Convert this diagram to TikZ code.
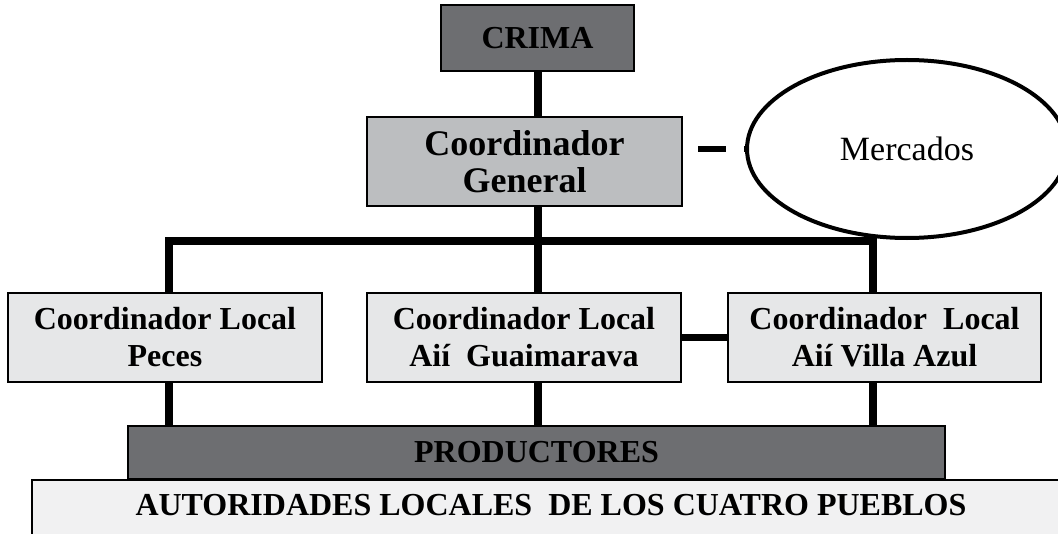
\documentclass[tikz,border=0pt]{standalone}
\usepackage{fontspec}
\setmainfont{Liberation Serif}
\usetikzlibrary{shapes.geometric}
\definecolor{dk}{HTML}{6D6E71}
\definecolor{md}{HTML}{BCBEC0}
\definecolor{lt}{HTML}{E6E7E8}
\definecolor{pl}{HTML}{F1F1F2}
\tikzstyle{bx}=[shape=rectangle, draw, line width=1pt, inner sep=0, align=center, font=\fontsize{16pt}{18.5pt}\selectfont\bfseries]
\tikzstyle{loc}=[bx, fill=lt, minimum width=157pt, minimum height=44.5pt]
\tikzstyle{ln}=[line width=4pt]

\begin{document}
\begin{tikzpicture}[x=.5pt, y=-.5pt]
\useasboundingbox (0,0) rectangle (1058,534);
\clip (0,0) rectangle (1058,534);
%\draw[help lines,step=50] (0,0) grid (1058,534);
\node at (537.5,38.5)[bx, fill=dk, minimum width=96.5pt, minimum height=33pt](cr){CRIMA};
\node at (524.5,161.5)[bx, fill=md, minimum width=157.5pt, minimum height=44.5pt, font=\fontsize{18pt}{18.5pt}\selectfont\bfseries](cg){Coordinador\\General};
\node at (907,149)[ellipse, draw, line width=2pt, inner sep=0, minimum width=160pt, minimum height=89pt, font=\fontsize{17pt}{20pt}\selectfont](mk){Mercados};
\node at (165,337.5)[loc](pc){Coordinador Local\\Peces};
\node at (524,337.5)[loc](gm){Coordinador Local\\Aií\ \ Guaimarava};
\node at (884.5,337.5)[loc, minimum width=156.5pt](va){Coordinador\ \ Local\\Aií Villa Azul};
\node at (536.5,452.5)[bx, fill=dk, minimum width=408.5pt, minimum height=26.5pt](pr){PRODUCTORES};
\node at (551,479)[bx, fill=pl, anchor=north, minimum width=519pt, inner ysep=7pt, text height=10.6pt, text depth=30pt](au){AUTORIDADES LOCALES\ \ DE LOS CUATRO PUEBLOS};
\coordinate (bl) at (169,241);
\coordinate (br) at (873,241);
\draw[ln] (cr.south) -- (cr.south |- cg.north);
\draw[ln] (cr.south |- cg.south) -- (cr.south |- gm.north);
\draw[ln] (bl |- pc.north) -- (bl) -- (br) -- (br |- va.north);
\draw[ln] (bl |- pc.south) -- (bl |- pr.north);
\draw[ln] (cr.south |- gm.south) -- (cr.south |- pr.north);
\draw[ln] (br |- va.south) -- (br |- pr.north);
\draw[line width=3.5pt] (gm.east) -- (va.west);
\draw[line width=3pt, dash pattern=on 14pt off 9pt, dash phase=15.5pt] (cg.east |- mk.west) -- (mk.west);
\end{tikzpicture}
\end{document}
